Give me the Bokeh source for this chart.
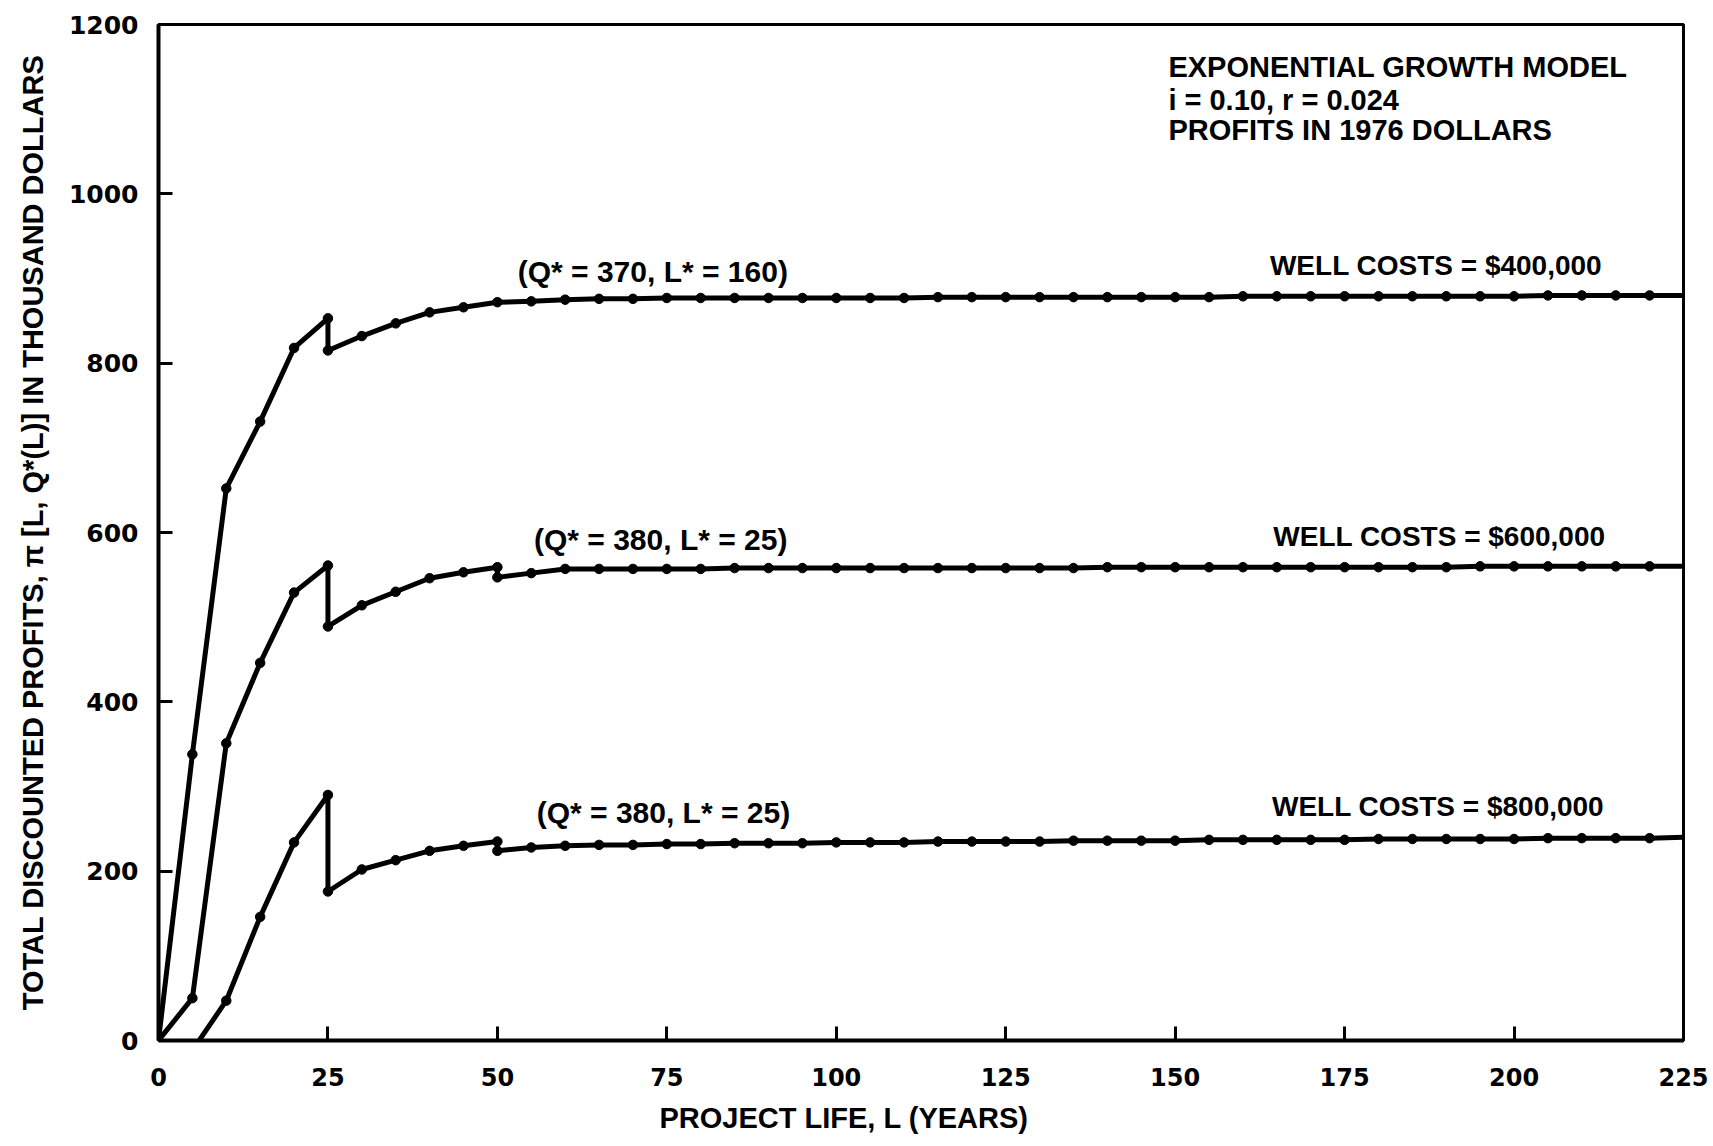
from bokeh.plotting import figure
from bokeh.models import Range1d, FixedTicker, Label, Title
from bokeh.embed import file_html
from bokeh.resources import INLINE

# ---- data ----
tail_years = [65, 70, 75, 80, 85, 90, 95, 100, 105, 110, 115, 120, 125, 130, 135, 140,
              145, 150, 155, 160, 165, 170, 175, 180, 185, 190, 195, 200, 205, 210, 215, 220, 225]

years_400 = [0, 5, 10, 15, 20, 25, 25, 30, 35, 40, 45, 50, 55, 60] + tail_years
profit_400 = [0, 338, 652, 731, 818, 853, 815, 832, 847, 860, 866, 872, 873, 875,
              876, 876, 877, 877, 877, 877, 877, 877, 877, 877, 878, 878, 878, 878, 878, 878,
              878, 878, 878, 879, 879, 879, 879, 879, 879, 879, 879, 879, 880, 880, 880, 880, 880]

years_600 = [0, 5, 10, 15, 20, 25, 25, 30, 35, 40, 45, 50, 50, 55, 60] + tail_years
profit_600 = [0, 50, 351, 446, 529, 561, 489, 514, 530, 546, 553, 559, 547, 552, 557,
              557, 557, 557, 557, 558, 558, 558, 558, 558, 558, 558, 558, 558, 558, 558,
              559, 559, 559, 559, 559, 559, 559, 559, 559, 559, 559, 560, 560, 560, 560, 560, 560, 560]

years_800 = [6, 10, 15, 20, 25, 25, 30, 35, 40, 45, 50, 50, 55, 60] + tail_years
profit_800 = [0, 47, 146, 234, 290, 176, 202, 213, 224, 230, 235, 224, 228, 230,
              231, 231, 232, 232, 233, 233, 233, 234, 234, 234, 235, 235, 235, 235, 236, 236,
              236, 236, 237, 237, 237, 237, 237, 238, 238, 238, 238, 238, 239, 239, 239, 239, 240]

x_ticks = [0, 25, 50, 75, 100, 125, 150, 175, 200, 225]
y_ticks = [0, 200, 400, 600, 800, 1000, 1200]

optimum_labels = ["(Q* = 370, L* = 160)", "(Q* = 380, L* = 25)", "(Q* = 380, L* = 25)"]
cost_labels = ["WELL COSTS = $400,000", "WELL COSTS = $600,000", "WELL COSTS = $800,000"]
info_lines = ["EXPONENTIAL GROWTH MODEL", "i = 0.10, r = 0.024", "PROFITS IN 1976 DOLLARS"]
x_title = "PROJECT LIFE, L (YEARS)"
y_title = "TOTAL DISCOUNTED PROFITS, \u03c0 [L, Q*(L)] IN THOUSAND DOLLARS"

# ---- figure ----
p = figure(width=1713, height=1146, output_backend="svg", toolbar_location=None,
           x_range=Range1d(0, 225), y_range=Range1d(0, 1200),
           min_border_left=158, min_border_right=30, min_border_top=24, min_border_bottom=106,
           background_fill_color="white", border_fill_color="white")
p.grid.visible = False
p.outline_line_color = "black"
p.outline_line_width = 3

TICK_FONT = "DejaVu Sans"
TXT_FONT = "Liberation Sans"

p.xaxis.ticker = FixedTicker(ticks=x_ticks)
p.yaxis.ticker = FixedTicker(ticks=y_ticks)
for ax in (p.xaxis[0], p.yaxis[0]):
    ax.axis_line_width = 4
    ax.axis_line_color = "black"
    ax.major_tick_in = 14
    ax.major_tick_out = 0
    ax.major_tick_line_width = 3
    ax.major_tick_line_color = "black"
    ax.minor_tick_line_color = None
    ax.major_label_text_font = TICK_FONT
    ax.major_label_text_font_style = "bold"
    ax.major_label_text_color = "black"
    ax.axis_label_text_font = TXT_FONT
    ax.axis_label_text_font_style = "bold"
    ax.axis_label_text_color = "black"

p.xaxis.major_label_text_font_size = "24px"
p.yaxis.major_label_text_font_size = "25px"
p.xaxis.major_label_standoff = 27
p.yaxis.axis_label = y_title
p.yaxis.axis_label_text_font_size = "29px"
p.yaxis.major_label_standoff = 20
p.yaxis.axis_label_standoff = 17

# x-axis title, placed left of centre as in the original
p.add_layout(Title(text=x_title, align="left", offset=501, standoff=22,
                   text_font=TXT_FONT, text_font_style="bold", text_font_size="29px",
                   text_color="black"), "below")

# ---- curves ----
for yrs, vals in ((years_400, profit_400), (years_600, profit_600), (years_800, profit_800)):
    p.line(yrs, vals, line_color="black", line_width=5, line_join="round")
    p.scatter(yrs[1:-1], vals[1:-1], size=9.5, color="black")

# ---- annotations ----
opt_pos = [(53.0, 908), (55.4, 592), (55.8, 269)]
cost_pos = [(213.0, 915), (213.5, 595), (213.3, 276)]
for (x, y), t in zip(opt_pos, optimum_labels):
    p.add_layout(Label(x=x, y=y, text=t, text_font=TXT_FONT, text_font_style="bold",
                       text_font_size="30px", text_color="black",
                       text_baseline="middle", text_align="left"))
for (x, y), t in zip(cost_pos, cost_labels):
    p.add_layout(Label(x=x, y=y, text=t, text_font=TXT_FONT, text_font_style="bold",
                       text_font_size="28px", text_color="black",
                       text_baseline="middle", text_align="right"))
for y, t in zip([1150, 1111, 1075], info_lines):
    p.add_layout(Label(x=149.0, y=y, text=t, text_font=TXT_FONT, text_font_style="bold",
                       text_font_size="29px", text_color="black",
                       text_baseline="middle", text_align="left"))

open("out.html", "w").write(file_html(p, INLINE))
